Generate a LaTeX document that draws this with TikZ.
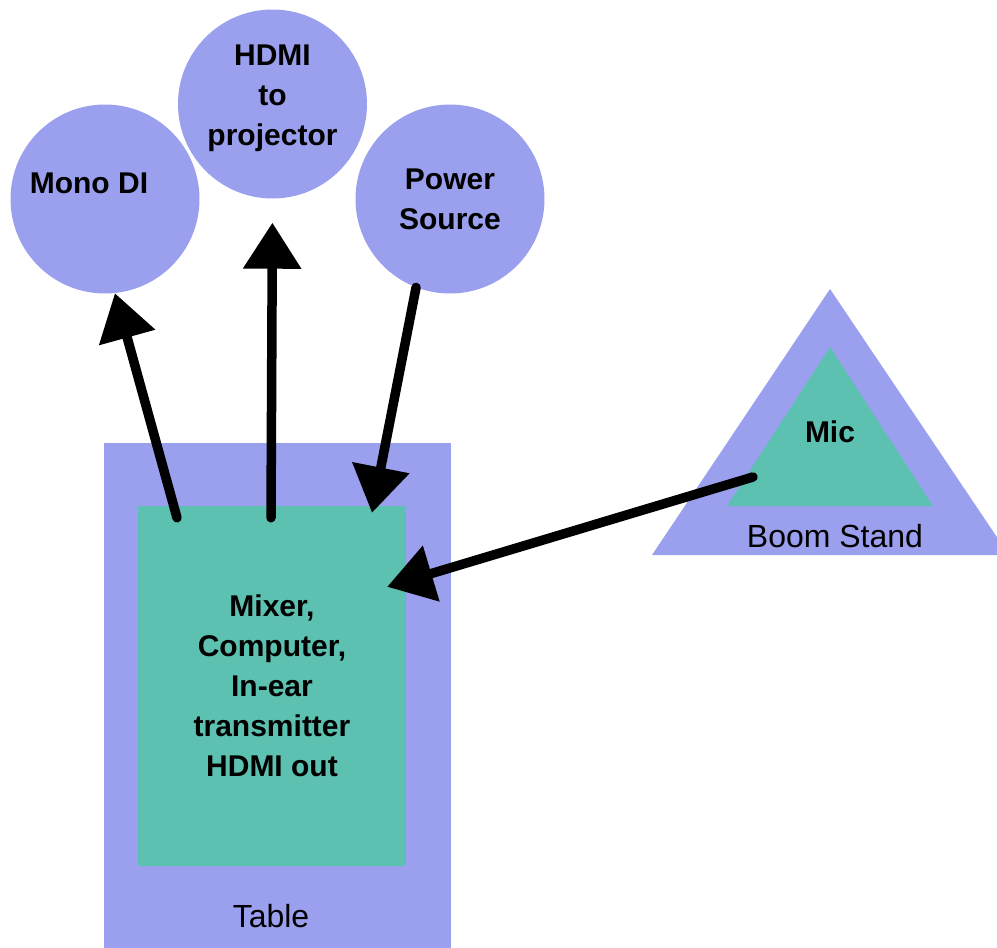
\documentclass[tikz,border=0pt]{standalone}
\usepackage{fontspec}
\setmainfont{Liberation Sans}
\usetikzlibrary{arrows.meta,calc}

\definecolor{lilac}{HTML}{9AA0EE}
\definecolor{mint}{HTML}{5CC1B0}

\tikzset{
  hub/.style={circle, fill=lilac, minimum size=189pt, inner sep=0pt, align=center, font=\bigbold},
  plain/.style={inner sep=0pt, align=center, font=\bigreg},
  wire/.style={-{Triangle[length=46pt,width=56pt]}, line width=9.5pt, line cap=round, black}
}
\newcommand{\bigbold}{\fontsize{30}{40}\selectfont\bfseries}
\newcommand{\bigreg}{\fontsize{32}{40}\selectfont}

\begin{document}
\begin{tikzpicture}[x=1pt,y=-1pt]

        \useasboundingbox (0,0) rectangle (997,948);
        \clip (0,0) rectangle (997,948);

        % sources on top
        \node[hub, label={[font=\bigbold, xshift=-16pt, yshift=16pt]center:Mono DI}] (mono) at (105,199) {};
        \node[hub, label={[font=\bigbold, align=center, yshift=6pt]center:HDMI\\to\\projector}] (hdmi) at (272.5,104) {};
        \node[hub] (power) at (450,199) {Power\\Source};

        % table with the gear on it
        \node[fill=lilac, minimum width=347pt, minimum height=505pt, inner sep=0pt] (table) at (277.5,695.5) {};
        \node[fill=mint, minimum width=268pt, minimum height=360pt, inner sep=0pt, align=center, font=\bigbold] (mixer) at (272,686)
          {Mixer,\\Computer,\\In-ear\\transmitter\\HDMI out};
        \node[plain] (tabletxt) at (271,916) {Table};

        % boom stand
        \fill[lilac] (830,289) -- (1009,555) -- (652,555) -- cycle;
        \fill[mint] (830,347) -- (933,506) -- (727,506) -- cycle;
        \node[plain, font=\bigbold] (mic) at (830,432) {Mic};
        \node[plain] (boom) at (835,536) {Boom Stand};

        \coordinate (out1) at ($(mixer.north)+(-95,12)$);
        \coordinate (out2) at ($(mixer.north)+(-1,12)$);
        \coordinate (in3) at ($(mixer.north)+(100,7)$);
        \coordinate (in4) at ($(mixer.north east)+(-19,81)$);
        \coordinate (micout) at ($(mic)+(-77,45)$);

        \draw[wire] (out1) -- (mono.-84);
        \draw[wire, shorten >=24pt] (out2) -- (hdmi.south);
        \draw[wire] (power.-111) -- (in3);
        \draw[wire] (micout) -- (in4);

\end{tikzpicture}
\end{document}
